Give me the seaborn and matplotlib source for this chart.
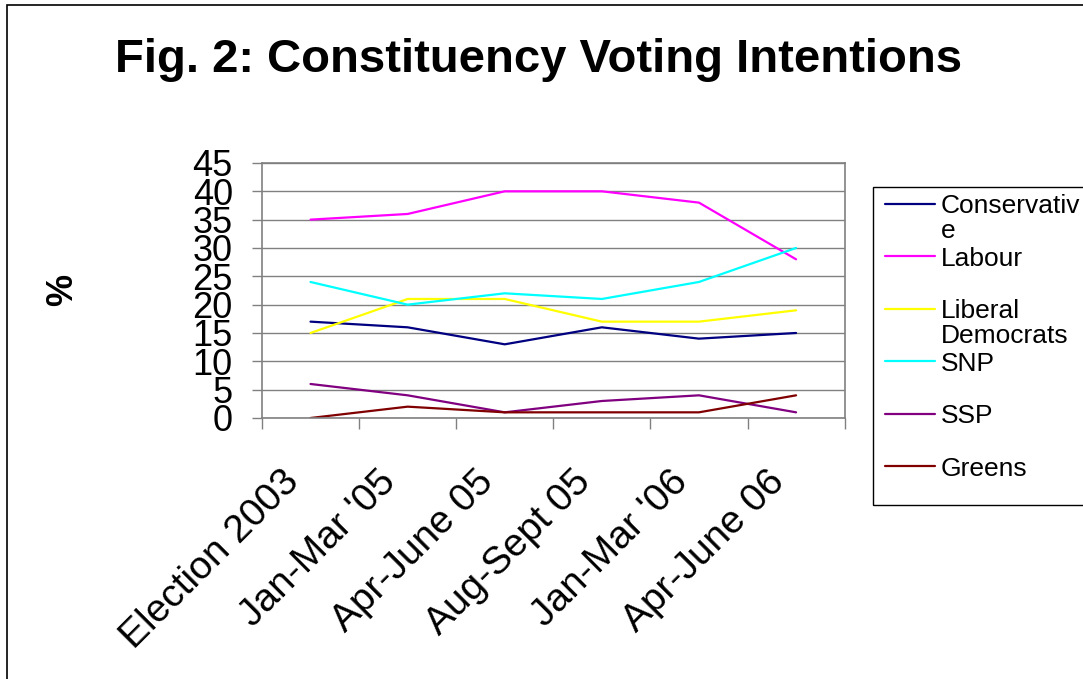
import numpy as np
import pandas as pd
import seaborn as sns
import matplotlib.pyplot as plt
import matplotlib.transforms as mtransforms
from matplotlib.patches import Rectangle

# # # # # Data # # # # #
periods = ["Election 2003", "Jan-Mar '05", "Apr-June 05", "Aug-Sept 05", "Jan-Mar '06", "Apr-June 06"]
parties = ["Conservative", "Labour", "Liberal Democrats", "SNP", "SSP", "Greens"]
conservative = [17, 16, 13, 16, 14, 15]
labour = [35, 36, 40, 40, 38, 28]
lib_dem = [15, 21, 21, 17, 17, 19]
snp = [24, 20, 22, 21, 24, 30]
ssp = [6, 4, 1, 3, 4, 1]
greens = [0, 2, 1, 1, 1, 4]
colours = ["#000080", "#FF00FF", "#FFFF00", "#00FFFF", "#800080", "#800000"]
y_ticks = [0, 5, 10, 15, 20, 25, 30, 35, 40, 45]

# long form data frame for seaborn
values = [conservative, labour, lib_dem, snp, ssp, greens]
rows = []
for party, vals in zip(parties, values):
    for period, v in zip(periods, vals):
        rows.append({"Period": period, "Party": party, "Percent": v})
df = pd.DataFrame(rows)

# # # # # Theme # # # # #
sns.set_theme(style="white")
plt.rcParams['font.family'] = ['Liberation Sans', 'DejaVu Sans']
plt.rcParams['text.color'] = 'black'
plt.rcParams['xtick.color'] = 'black'
plt.rcParams['ytick.color'] = 'black'

fig = plt.figure(figsize=(10.83, 6.79), dpi=100)
ax = fig.add_axes([0.2419, 0.3844, 0.538, 0.3756])

sns.lineplot(data=df, x="Period", y="Percent", hue="Party", palette=colours,
             sort=False, linewidth=1.6, ax=ax, legend=False)

# axes setup
ax.set_xlim(-0.5, len(periods) - 0.5)
ax.set_ylim(0, 45)
ax.set_yticks(y_ticks)
ax.set_yticklabels([str(t) for t in y_ticks], fontsize=26)
ax.yaxis.grid(True, color="#808080", linewidth=1)
ax.set_axisbelow(True)
for s in ax.spines.values():
    s.set_color("#808080")
    s.set_linewidth(1.2)

# category boundaries get the tick marks, labels sit in the middle
ax.set_xticks(np.arange(-0.5, len(periods)), labels=[""] * (len(periods) + 1))
ax.set_xticks(np.arange(len(periods)), minor=True)
ax.set_xticklabels(periods, minor=True, rotation=45, ha="right", va="center",
                   rotation_mode="anchor", fontsize=28)
ax.tick_params(axis="x", which="major", length=8, width=1, color="#808080", direction="out", bottom=True)
ax.tick_params(axis="x", which="minor", length=0, pad=42)
ax.tick_params(axis="y", length=7, width=1, color="#808080", direction="out", left=True, pad=14)
ax.set_xlabel("")
ax.set_ylabel("")
# nudge the slanted labels a little to the left like the original
shift = mtransforms.ScaledTranslation(-0.17, 0, fig.dpi_scale_trans)
for lab in ax.get_xticklabels(minor=True):
    lab.set_transform(lab.get_transform() + shift)

# # # # # Legend # # # # #
handles = [plt.Line2D([], [], color=c, linewidth=1.6) for c in colours]
short_labels = ["Conservativ", "Labour", "Liberal", "SNP", "SSP", "Greens"]
leg = ax.legend(handles, short_labels, loc="upper left", bbox_to_anchor=(878 / 1083, 0.7246),
                bbox_transform=fig.transFigure, frameon=False, fontsize=19,
                handlelength=1.9, handletextpad=0.2, labelspacing=1.08, borderpad=0.27,
                borderaxespad=0)
# legend box drawn separately (the original has more room under the last entry)
fig.add_artist(Rectangle((873 / 1083, 1 - 505 / 679), 0.3, (505 - 187) / 679,
                         transform=fig.transFigure, fill=False, edgecolor="black", linewidth=1))

# the original wraps these two labels onto a second line
fig.canvas.draw()
for idx, rest in [(0, "e"), (2, "Democrats")]:
    bb = leg.get_texts()[idx].get_window_extent()
    fig.text(bb.x0 / fig.bbox.width, (bb.y0 - 1) / fig.bbox.height, rest,
             ha="left", va="top", fontsize=19)

# # # # # Titles # # # # #
fig.text(0.497, 1 - 60 / 679, "Fig. 2: Constituency Voting Intentions", ha="center", va="center",
         fontsize=34, fontweight="bold")
fig.text(63 / 1083, 1 - 290 / 679, "%", ha="center", va="center", rotation=90,
         fontsize=26, fontweight="bold")

# outer frame of the chart object
fig.add_artist(Rectangle((7 / 1083, -0.5), 2, 0.5 + 1 - 5 / 679, transform=fig.transFigure,
                         fill=False, edgecolor="black", linewidth=1.2))

fig.savefig("out.png", dpi=100)
